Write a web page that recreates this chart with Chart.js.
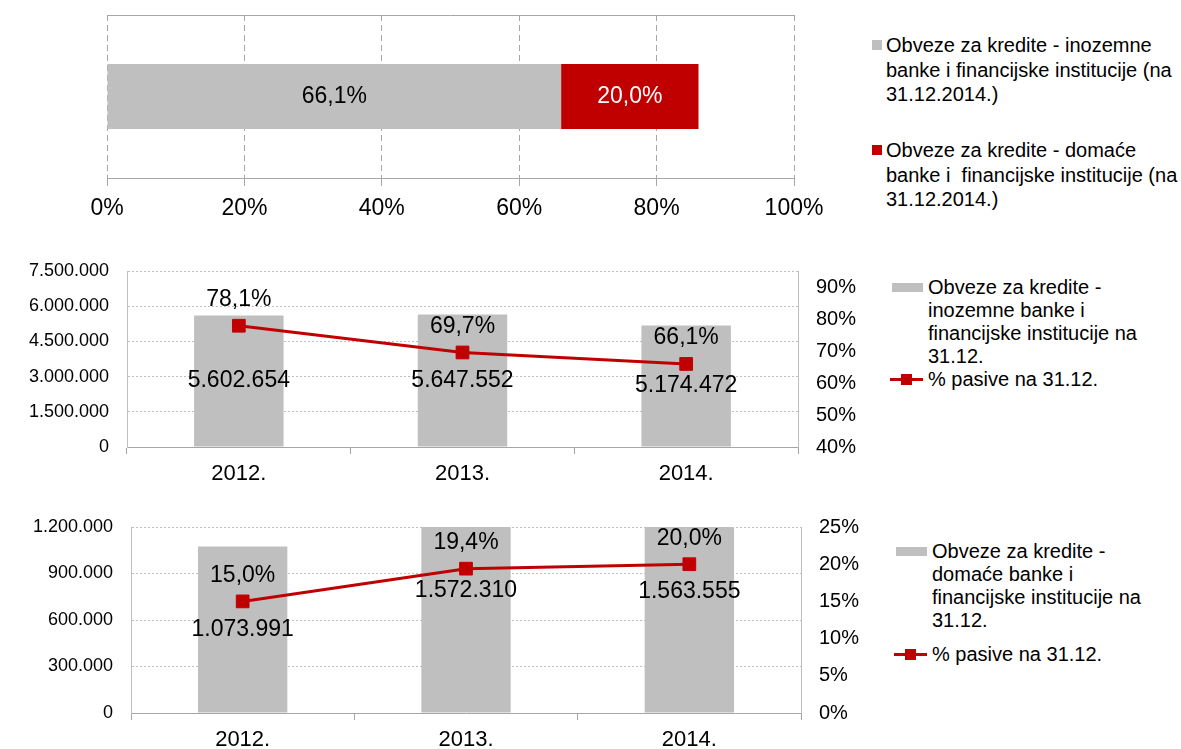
<!DOCTYPE html>
<html>
<head>
<meta charset="utf-8">
<script src="https://cdn.jsdelivr.net/npm/chart.js@4.4.1/dist/chart.umd.min.js"></script>
<style>
  html, body { margin: 0; padding: 0; background: #fff; }
  body { width: 1181px; height: 749px; position: relative; overflow: hidden;
         font-family: "Liberation Sans", Arial, sans-serif; color: #000; }
  canvas { position: absolute; left: 0; }
  .key { position: absolute; font-size: 20px; white-space: pre; }
  .key .sw { position: absolute; }
  .key .line { position: absolute; height: 3px; background: #c00000; }
  .key .mark { position: absolute; width: 11px; height: 11px; background: #c00000; }
</style>
</head>
<body>
<canvas id="share" width="860" height="235" style="top:0"></canvas>
<canvas id="foreign" width="880" height="240" style="top:250px"></canvas>
<canvas id="domestic" width="880" height="237" style="top:512px"></canvas>
<script>
const GREY = '#bfbfbf';
const RED = '#c00000';

// struktura obveza na 31.12.2014. (udio u pasivi)
const shareLabels = ['31.12.2014.'];
const shareForeign = [66.1];
const shareDomestic = [20.0];
const shareTicks = [0, 20, 40, 60, 80, 100];

const years = ['2012.', '2013.', '2014.'];

// inozemne banke
const foreignLoans = [5602654, 5647552, 5174472];
const foreignShare = [78.1, 69.7, 66.1];
const foreignLoanTicks = [0, 1500000, 3000000, 4500000, 6000000, 7500000];
const foreignShareTicks = [40, 50, 60, 70, 80, 90];

// domaće banke
const domesticLoans = [1073991, 1572310, 1563555];
const domesticShare = [15.0, 19.4, 20.0];
const domesticLoanTicks = [0, 300000, 600000, 900000, 1200000];
const domesticShareTicks = [0, 5, 10, 15, 20, 25];

const nameForeignTotal = 'Obveze za kredite - inozemne\nbanke i financijske institucije (na\n31.12.2014.)';
const nameDomesticTotal = 'Obveze za kredite - domaće\nbanke i  financijske institucije (na\n31.12.2014.)';
const nameForeign = 'Obveze za kredite -\ninozemne banke i\nfinancijske institucije na\n31.12.';
const nameDomestic = 'Obveze za kredite -\ndomaće banke i\nfinancijske institucije na\n31.12.';
const nameShare = '% pasive na 31.12.';

const FONT = '"Liberation Sans", Arial, sans-serif';
Chart.defaults.font.family = FONT;
Chart.defaults.color = '#000';

const fmtInt = v => String(Math.round(v)).replace(/\B(?=(\d{3})+(?!\d))/g, '.');
const fmtPct = v => v.toFixed(1).replace('.', ',') + '%';
const fmtTickPct = v => v + '%';
const fixTicks = values => scale => { scale.ticks = values.map(v => ({ value: v })); };

// natpisi vrijednosti: stupci u sredini, linija iznad točke
const valueLabels = {
  id: 'valueLabels',
  afterDatasetsDraw(chart) {
    const ctx = chart.ctx;
    chart.data.datasets.forEach((ds, i) => {
      if (!ds.labelFormat) return;
      const meta = chart.getDatasetMeta(i);
      ctx.save();
      ctx.font = '23px ' + FONT;
      ctx.fillStyle = ds.labelColor || '#000';
      ctx.textAlign = 'center';
      ctx.textBaseline = 'middle';
      meta.data.forEach((el, j) => {
        let x = el.x, y = el.y;
        if (meta.type === 'bar') {
          if (chart.options.indexAxis === 'y') x = (el.x + el.base) / 2;
          else y = (el.y + el.base) / 2;
        } else {
          y = el.y - 26;
        }
        ctx.fillText(ds.labelFormat(ds.data[j]), x, y);
      });
      ctx.restore();
    });
  }
};

const topEdge = {
  id: 'topEdge',
  beforeDatasetsDraw(chart) {
    const { ctx, chartArea: a } = chart;
    ctx.save();
    ctx.strokeStyle = '#a6a6a6';
    ctx.lineWidth = 1;
    ctx.beginPath();
    ctx.moveTo(a.left, a.top + 0.5);
    ctx.lineTo(a.right, a.top + 0.5);
    ctx.stroke();
    ctx.restore();
  }
};

const common = {
  responsive: false,
  animation: false,
  events: [],
  plugins: { legend: { display: false }, tooltip: { enabled: false } }
};

new Chart(document.getElementById('share'), {
  type: 'bar',
  data: {
    labels: shareLabels,
    datasets: [
      { label: nameForeignTotal, data: shareForeign, backgroundColor: GREY, labelFormat: fmtPct },
      { label: nameDomesticTotal, data: shareDomestic, backgroundColor: RED, labelFormat: fmtPct, labelColor: '#fff' }
    ]
  },
  options: {
    ...common,
    indexAxis: 'y',
    layout: { padding: { left: 107, right: 66, top: 15 } },
    datasets: { bar: { categoryPercentage: 1, barPercentage: 0.4 } },
    scales: {
      x: {
        stacked: true, min: 0, max: 100,
        afterBuildTicks: fixTicks(shareTicks),
        ticks: { callback: fmtTickPct, font: { size: 23 }, padding: 9 },
        grid: { color: '#a6a6a6', tickLength: 8 },
        border: { color: '#a6a6a6', dash: [6, 4] },
        afterFit: s => { s.height = 57; s.paddingLeft = 0; s.paddingRight = 0; }
      },
      y: { stacked: true, display: false }
    }
  },
  plugins: [valueLabels, topEdge]
});

function comboChart(id, loans, shares, loanName, loanTicks, shareTicks, pctMax, box) {
  new Chart(document.getElementById(id), {
    data: {
      labels: years,
      datasets: [
        {
          type: 'line', label: nameShare, data: shares, yAxisID: 'pct',
          borderColor: RED, backgroundColor: RED, borderWidth: 3,
          pointStyle: 'rect', pointRadius: 9, pointBorderWidth: 1,
          order: 0, labelFormat: fmtPct
        },
        {
          type: 'bar', label: loanName, data: loans, yAxisID: 'amt',
          backgroundColor: GREY, categoryPercentage: 1, barPercentage: 0.4,
          order: 1, labelFormat: fmtInt
        }
      ]
    },
    options: {
      ...common,
      layout: { padding: { top: box.top } },
      scales: {
        x: {
          grid: { offset: true, drawOnChartArea: false, color: '#a6a6a6', tickLength: 7 },
          border: { color: '#a6a6a6' },
          ticks: { font: { size: 22 }, padding: 7 },
          afterFit: s => { s.height = box.bottom; s.paddingLeft = 0; s.paddingRight = 0; }
        },
        amt: {
          position: 'left', min: 0, max: loanTicks[loanTicks.length - 1],
          afterBuildTicks: fixTicks(loanTicks),
          ticks: { callback: fmtInt, font: { size: 18 }, padding: 18 },
          grid: { color: '#bfbfbf', drawTicks: false },
          border: { color: '#bfbfbf', dash: [2, 2] },
          afterFit: s => { s.width = box.left; s.paddingTop = 0; s.paddingBottom = 0; }
        },
        pct: {
          position: 'right', min: shareTicks[0], max: pctMax,
          afterBuildTicks: fixTicks(shareTicks),
          ticks: { callback: fmtTickPct, font: { size: 20 }, padding: 18 },
          grid: { display: false, drawTicks: false },
          border: { color: '#bfbfbf' },
          afterFit: s => { s.width = box.right; s.paddingTop = 0; s.paddingBottom = 0; }
        }
      }
    },
    plugins: [valueLabels]
  });
}

comboChart('foreign', foreignLoans, foreignShare, nameForeign, foreignLoanTicks, foreignShareTicks, 95.3,
  { top: 21, bottom: 43, left: 127, right: 82 });
comboChart('domestic', domesticLoans, domesticShare, nameDomestic, domesticLoanTicks, domesticShareTicks, 25,
  { top: 15, bottom: 36, left: 131, right: 79 });

// legende
function key(left, top, lineHeight, text, swatch) {
  const row = document.createElement('div');
  row.className = 'key';
  row.style.left = left + 'px';
  row.style.top = top + 'px';
  row.style.lineHeight = lineHeight + 'px';
  row.textContent = text;
  swatch.forEach(s => row.appendChild(s));
  document.body.appendChild(row);
}
function el(cls, css) {
  const d = document.createElement('div');
  d.className = cls;
  Object.assign(d.style, css);
  return d;
}
const square = (color, lh) => [el('sw', { left: '-14px', top: (lh / 2 - 5) + 'px', width: '10px', height: '10px', background: color })];
const block = (lh) => [el('sw', { left: '-36px', top: (lh / 2 - 4.5) + 'px', width: '31px', height: '9px', background: GREY })];
const lineMark = (lh) => [
  el('line', { left: '-38px', top: (lh / 2 - 1.5) + 'px', width: '33px' }),
  el('mark', { left: '-27px', top: (lh / 2 - 5.5) + 'px' })
];

key(886, 33, 24.5, nameForeignTotal, square(GREY, 24.5));
key(886, 138, 24.5, nameDomesticTotal, square(RED, 24.5));
key(928, 276, 23, nameForeign, block(23));
key(928, 368, 23, nameShare, lineMark(23));
key(932, 540, 23, nameDomestic, block(23));
key(932, 643, 23, nameShare, lineMark(23));
</script>
</body>
</html>
